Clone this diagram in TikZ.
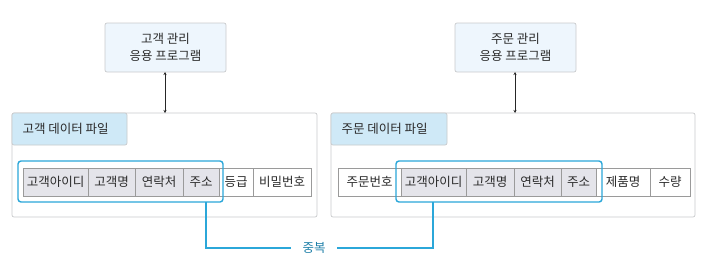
\documentclass[tikz,border=0pt]{standalone}
\usepackage{fontspec}
\setmainfont{Noto Sans CJK KR}
\usetikzlibrary{arrows.meta}
\definecolor{hl}{HTML}{2BA7D9}
\definecolor{tabfill}{HTML}{CFE9F7}
\definecolor{appfill}{HTML}{EEF6FD}
\definecolor{cellgray}{HTML}{E4E4EA}
\definecolor{boxline}{HTML}{C9CACC}
\definecolor{cellline}{HTML}{9A9A9A}
\definecolor{txt}{HTML}{2A2A2A}
\definecolor{duptxt}{HTML}{1E7FA8}
\begin{document}
\begin{tikzpicture}[x=1pt,y=-1pt,
  every node/.style={font=\fontsize{12.5}{16.5}\selectfont, text=txt},
  appbox/.style={draw=boxline, fill=appfill, rounded corners=2pt, line width=0.7pt},
  filebox/.style={draw=boxline, fill=white, rounded corners=2pt, line width=0.7pt},
  tabbox/.style={draw=boxline, fill=tabfill, rounded corners=2pt, line width=0.7pt},
  gcell/.style={draw=cellline, fill=cellgray, line width=0.5pt},
  wcell/.style={draw=cellline, fill=white, line width=0.5pt},
  hlbox/.style={draw=hl, rounded corners=3pt, line width=1.4pt},
  hlline/.style={draw=hl, line width=1.4pt},
  link/.style={draw=black!85, line width=1pt, {Stealth[length=3pt,width=3pt]}-{Stealth[length=3pt,width=3pt]}}
]
\useasboundingbox (0,0) rectangle (706,266);
% application boxes
\path[appbox] (105,23) rectangle (226,72);
\node[align=center] (appL) at (165.5,47.5) {고객 관리\\응용 프로그램};
\path[appbox] (455,23) rectangle (576,72);
\node[align=center] (appR) at (515.5,47.5) {주문 관리\\응용 프로그램};
\coordinate (appLb) at (165,72);
\coordinate (appRb) at (515,72);
% file boxes
\path[filebox] (12,113) rectangle (317,217);
\path[filebox] (331,113) rectangle (695,217);
\coordinate (fileLt) at (165,113);
\coordinate (fileRt) at (515,113);
\draw[link] (appLb) -- (fileLt);
\draw[link] (appRb) -- (fileRt);
% tabs
\path[tabbox] (12,113) rectangle (127,145);
\node[anchor=west] (tabL) at (19,129) {고객 데이터 파일};
\path[tabbox] (331,113) rectangle (447,145);
\node[anchor=west] (tabR) at (338,129) {주문 데이터 파일};
% left table
\path[gcell] (23,168) rectangle (88,196);
\path[gcell] (88,168) rectangle (135,196);
\path[gcell] (135,168) rectangle (183,196);
\path[gcell] (183,168) rectangle (219,196);
\path[wcell] (219,168) rectangle (253,196);
\path[wcell] (253,168) rectangle (311,196);
\node (l1) at (55.5,182) {고객아이디};
\node (l2) at (111.5,182) {고객명};
\node (l3) at (159,182) {연락처};
\node (l4) at (201,182) {주소};
\node (l5) at (236,182) {등급};
\node (l6) at (282,182) {비밀번호};
% right table
\path[wcell] (338,168) rectangle (401,196);
\path[gcell] (401,168) rectangle (466,196);
\path[gcell] (466,168) rectangle (514,196);
\path[gcell] (514,168) rectangle (561,196);
\path[gcell] (561,168) rectangle (596,196);
\path[wcell] (596,168) rectangle (650,196);
\path[wcell] (650,168) rectangle (690,196);
\node (r1) at (369.5,182) {주문번호};
\node (r2) at (433.5,182) {고객아이디};
\node (r3) at (490,182) {고객명};
\node (r4) at (537.5,182) {연락처};
\node (r5) at (578.5,182) {주소};
\node (r6) at (623,182) {제품명};
\node (r7) at (670,182) {수량};
% highlights
\path[hlbox] (18,161) rectangle (223,202);
\path[hlbox] (396,161) rectangle (602,202);
\coordinate (hlLb) at (206,202);
\coordinate (hlRb) at (433,202);
\node[text=duptxt, inner sep=0pt, minimum width=45pt] (dup) at (314,248) {중복};
\path[hlline] (hlLb) |- (dup.west);
\path[hlline] (hlRb) |- (dup.east);
\end{tikzpicture}
\end{document}
